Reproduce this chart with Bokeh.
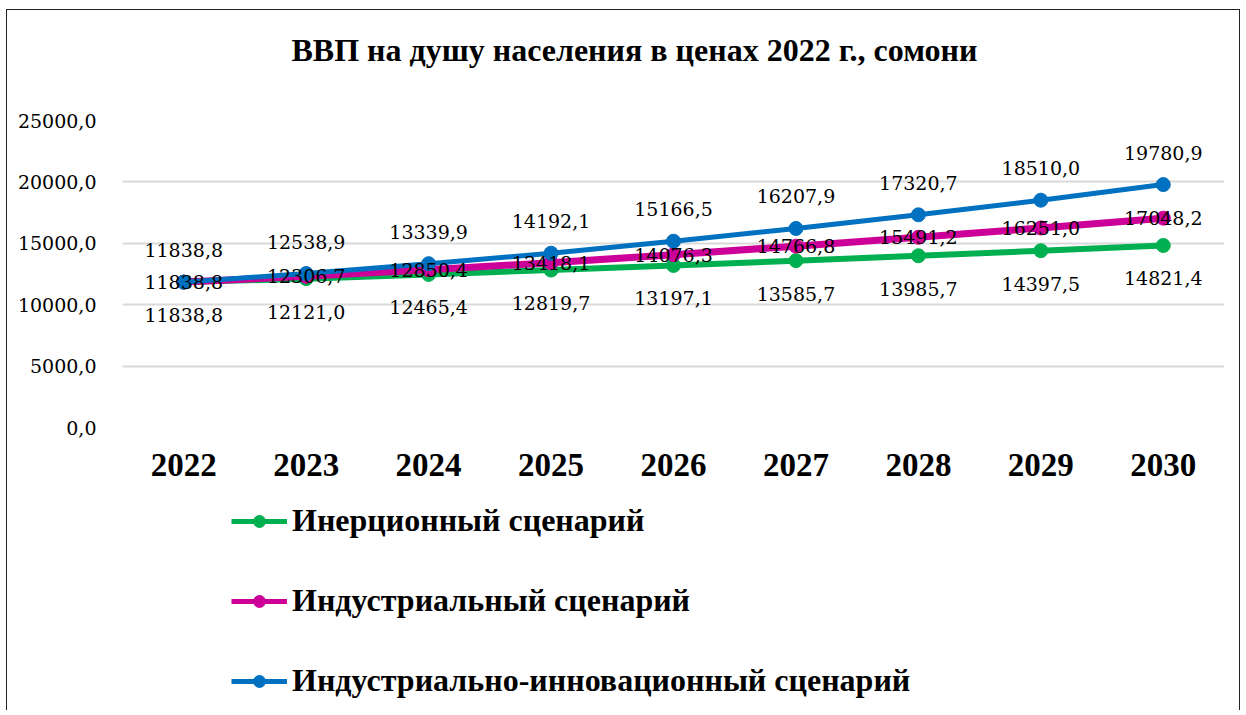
from bokeh.plotting import figure
from bokeh.layouts import column
from bokeh.models import FactorRange, Range1d, FixedTicker, Legend, LegendItem, ColumnDataSource, Label
from bokeh.core.properties import value
from bokeh.embed import file_html
from bokeh.resources import INLINE

years = ["2022", "2023", "2024", "2025", "2026", "2027", "2028", "2029", "2030"]
inertial = [11838.8, 12121.0, 12465.4, 12819.7, 13197.1, 13585.7, 13985.7, 14397.5, 14821.4]
industrial = [11838.8, 12306.7, 12850.4, 13418.1, 14076.3, 14766.8, 15491.2, 16251.0, 17048.2]
innovative = [11838.8, 12538.9, 13339.9, 14192.1, 15166.5, 16207.9, 17320.7, 18510.0, 19780.9]
y_ticks = [0, 5000, 10000, 15000, 20000, 25000]
names = ["Инерционный сценарий", "Индустриальный сценарий", "Индустриально-инновационный сценарий"]
title_text = "ВВП на душу населения в ценах 2022 г., сомони"

SERIF_B = "Liberation Serif"
SERIF_R = "DejaVu Serif"

def fmt(v):
    return f"{v:.1f}".replace(".", ",")

W = 1232

# title panel
tf = figure(width=W, height=100, x_range=Range1d(0, 1), y_range=Range1d(0, 1),
            output_backend="svg", toolbar_location=None, x_axis_type=None, y_axis_type=None,
            min_border=0)
tf.outline_line_color = None
tf.grid.visible = False
tf.add_layout(Label(x=169, y=61, x_units="screen", y_units="screen", text=title_text,
                    text_font=SERIF_B, text_font_size="32px", text_font_style="bold",
                    text_color="#000000", text_baseline="middle", text_align="left"))

# main chart
p = figure(width=W, height=385, x_range=FactorRange(*years), y_range=Range1d(0, 25000),
           output_backend="svg", toolbar_location=None,
           min_border_left=115, min_border_right=15, min_border_top=10, min_border_bottom=68)
p.outline_line_color = None

p.xgrid.grid_line_color = None
p.ygrid.grid_line_color = "#D9D9D9"
p.ygrid.grid_line_width = 2
p.yaxis.ticker = FixedTicker(ticks=y_ticks)
p.yaxis.major_label_overrides = {t: fmt(t) for t in y_ticks}
p.yaxis.major_label_text_font = SERIF_R
p.yaxis.major_label_text_font_size = "19px"
p.yaxis.major_label_text_color = "#000000"
p.yaxis.axis_line_color = None
p.yaxis.major_tick_line_color = None
p.yaxis.minor_tick_line_color = None
p.yaxis.major_label_standoff = 20

p.xaxis.major_label_text_font = SERIF_B
p.xaxis.major_label_text_font_size = "33px"
p.xaxis.major_label_text_font_style = "bold"
p.xaxis.major_label_text_color = "#000000"
p.xaxis.axis_line_color = None
p.xaxis.major_tick_line_color = None
p.xaxis.minor_tick_line_color = None
p.xaxis.major_label_standoff = 20

series = [
    (inertial, "#00B050", 6, 33),
    (industrial, "#CC0099", 7, 0),
    (innovative, "#0070C0", 5, -32),
]
for vals, color, lw, off in series:
    src = ColumnDataSource(dict(x=years, y=vals))
    p.line("x", "y", source=src, line_color=color, line_width=lw)
    p.scatter("x", "y", source=src, size=14, fill_color=color, line_color=color)

for vals, color, lw, off in series:
    src = ColumnDataSource(dict(x=years, y=vals, lab=[fmt(v) for v in vals]))
    p.text("x", "y", text="lab", source=src, text_font=value(SERIF_R), text_font_size="19px",
           text_align="center", text_baseline="middle", y_offset=off, text_color="#000000")

# legend panel (hidden copies of the series supply the legend glyphs)
lg = figure(width=W, height=215, x_range=FactorRange(*years), y_range=Range1d(0, 25000),
            output_backend="svg", toolbar_location=None, x_axis_type=None, y_axis_type=None,
            min_border=0)
lg.outline_line_color = None
lg.grid.visible = False
items = []
for (vals, color, lw, off), name in zip(series, names):
    src = ColumnDataSource(dict(x=years, y=vals))
    r1 = lg.line("x", "y", source=src, line_color=color, line_width=5, visible=False)
    r2 = lg.scatter("x", "y", source=src, size=14, fill_color=color, line_color=color, visible=False)
    items.append(LegendItem(label=name, renderers=[r1, r2]))

legend = Legend(items=items, location=(109, 11), orientation="vertical",
                label_text_font=SERIF_B, label_text_font_size="32px", label_text_font_style="bold",
                label_text_color="#000000", label_text_baseline="middle",
                glyph_width=56, glyph_height=30, label_height=30, spacing=43, label_standoff=5,
                padding=0, margin=0, border_line_color=None, background_fill_alpha=0)
lg.add_layout(legend, "center")

layout = column(tf, p, lg, spacing=0)
layout.styles = {"border": "1.5px solid #222", "border-bottom": "none", "margin": "9px 0 0 6px"}

open("out.html", "w").write(file_html(layout, INLINE))
